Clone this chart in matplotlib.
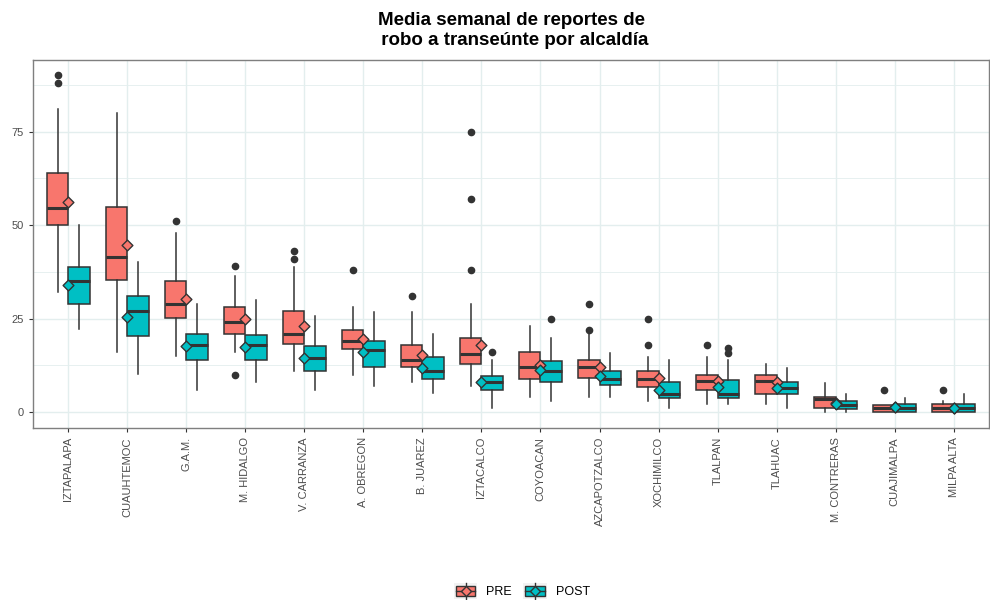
import matplotlib
matplotlib.use('Agg')
import matplotlib.pyplot as plt
from matplotlib.legend_handler import HandlerBase
from matplotlib.patches import Rectangle
from matplotlib.lines import Line2D

plt.rcParams['font.family'] = ['Liberation Sans', 'DejaVu Sans']

# Data (weekly robbery reports per alcaldía)
alcaldias = ['IZTAPALAPA', 'CUAUHTEMOC', 'G.A.M.', 'M. HIDALGO', 'V. CARRANZA',
             'A. OBREGON', 'B. JUAREZ', 'IZTACALCO', 'COYOACAN', 'AZCAPOTZALCO',
             'XOCHIMILCO', 'TLALPAN', 'TLAHUAC', 'M. CONTRERAS', 'CUAJIMALPA',
             'MILPA ALTA']

# PRE period: q1, median, q3, lower whisker, upper whisker, mean, outliers
pre_q1 = [50, 35.2, 25.2, 20.9, 18.2, 16.8, 11.9, 12.9, 8.8, 9.2, 6.8, 5.9, 4.9, 1, 0, 0]
pre_med = [54.6, 41.5, 29, 24, 20.9, 19, 14, 15.5, 12, 12, 8.9, 8.2, 8.3, 3.5, 1, 1]
pre_q3 = [64, 54.8, 35, 28, 27, 22, 17.9, 19.7, 16, 13.9, 10.9, 10, 10, 3.9, 1.8, 2]
pre_lo = [32, 16, 15, 16, 11, 10, 8, 7, 3.9, 3.9, 2.9, 2, 2, 0, 0, 0]
pre_hi = [81, 80, 47.9, 36.5, 38.9, 28, 26.8, 28.9, 22.9, 20.9, 14.8, 14.8, 12.7, 7.8, 1.8, 3]
pre_mean = [56.2, 44.6, 30.2, 25, 23, 19.4, 15.3, 17.9, 12.5, 12.1, 9.2, 8.2, 8, 2.4, 1.2, 1.1]
pre_out = [[88.1, 90.2], [], [51], [39.1, 10], [40.9, 43], [38], [31], [38, 57.1, 75],
           [], [22, 29], [17.9, 25], [18], [], [], [6], [6]]

# POST period
post_q1 = [28.9, 20.2, 13.8, 13.8, 10.9, 11.9, 8.8, 5.9, 7.9, 7.1, 3.8, 3.8, 4.9, 0.8, 0, 0]
post_med = [35, 27, 17.9, 17.9, 14.5, 16.5, 10.9, 7.9, 11, 8.9, 4.8, 4.8, 6.4, 1.8, 1, 1]
post_q3 = [38.9, 30.9, 20.9, 20.7, 17.6, 19, 14.7, 9.7, 13.6, 10.9, 8, 8.6, 8, 2.9, 2, 2]
post_lo = [22.1, 10.1, 5.9, 8, 5.9, 7, 5, 1, 2.9, 3.9, 1, 2, 1, 0, 0, 0]
post_hi = [50, 40, 28.9, 30, 25.8, 26.8, 20.9, 13.8, 19.9, 15.8, 13.8, 13.8, 11.8, 4.7, 3.8, 4.7]
post_mean = [34.1, 25.5, 17.7, 17.5, 14.3, 16.1, 11.7, 7.9, 11.2, 9.5, 5.9, 6.6, 6.4, 2, 1.2, 1.1]
post_out = [[], [], [], [], [], [], [], [16], [25], [], [], [15.9, 17.2], [], [], [], []]

pre_color = '#F8766D'
post_color = '#00BFC4'
edge = '#333333'


def make_stats(q1, med, q3, lo, hi, out):
    return [dict(q1=a, med=b, q3=c, whislo=d, whishi=e, fliers=f)
            for a, b, c, d, e, f in zip(q1, med, q3, lo, hi, out)]


fig = plt.figure(figsize=(9.9, 6), dpi=100)
ax = fig.add_axes([0.0333, 0.2867, 0.9657, 0.6133])

x = list(range(1, len(alcaldias) + 1))
width = 0.36
offset = 0.18

for stats, shift, col in [(make_stats(pre_q1, pre_med, pre_q3, pre_lo, pre_hi, pre_out), -offset, pre_color),
                          (make_stats(post_q1, post_med, post_q3, post_lo, post_hi, post_out), offset, post_color)]:
    ax.bxp(stats, positions=[p + shift for p in x], widths=width, patch_artist=True,
           showcaps=False, manage_ticks=False,
           boxprops=dict(facecolor=col, edgecolor=edge, linewidth=1.1),
           medianprops=dict(color=edge, linewidth=2.2),
           whiskerprops=dict(color=edge, linewidth=1.1),
           flierprops=dict(marker='o', markerfacecolor=edge, markeredgecolor=edge,
                           markersize=4.5, linestyle='none'))

# means at the category centre
ax.scatter(x, pre_mean, marker='D', s=30, facecolor=pre_color, edgecolor=edge,
           linewidth=1, zorder=5)
ax.scatter(x, post_mean, marker='D', s=30, facecolor=post_color, edgecolor=edge,
           linewidth=1, zorder=5)

ax.set_xlim(0.4, 16.6)
ax.set_ylim(-4.3, 94.2)
ax.set_xticks(x)
ax.set_xticklabels(alcaldias, rotation=90, fontsize=8, color='#4D4D4D')
ax.set_yticks([0, 25, 50, 75])
ax.set_yticks([12.5, 37.5, 62.5, 87.5], minor=True)
ax.tick_params(axis='y', labelsize=8, labelcolor='#4D4D4D', color='#333333', length=3)
ax.tick_params(axis='x', color='#333333', length=3)
ax.tick_params(axis='y', which='minor', length=0)
ax.grid(True, which='major', color='#E3EEEE', linewidth=1.0)
ax.grid(True, which='minor', axis='y', color='#E3EEEE', linewidth=0.6)
ax.set_axisbelow(True)
for s in ax.spines.values():
    s.set_color('#7F7F7F')
    s.set_linewidth(1.0)

fig.text(0.517, 0.98, 'Media semanal de reportes de\n robo a transeúnte por alcaldía',
         ha='center', va='top', fontsize=13.5, fontweight='bold', linespacing=1.2)


class BoxKey(HandlerBase):
    def __init__(self, color):
        super().__init__()
        self.color = color

    def create_artists(self, legend, orig_handle, xdescent, ydescent, width, height, fontsize, trans):
        x0, y0 = -xdescent, -ydescent
        bg = Rectangle((x0, y0), width, height, facecolor='#F2F2F2', edgecolor='none', transform=trans)
        cx = x0 + width / 2
        cy = y0 + height / 2
        wl = Line2D([cx, cx], [y0, y0 + height], color=edge, lw=1, transform=trans)
        bh = height * 0.7
        box = Rectangle((x0 + 1.5, cy - bh / 2), width - 3, bh,
                        facecolor=self.color, edgecolor=edge, lw=1, transform=trans)
        med = Line2D([x0 + 1.5, x0 + width - 1.5], [cy, cy], color=edge, lw=1, transform=trans)
        dm = Line2D([cx], [cy], marker='D', markersize=5.5, markerfacecolor=self.color,
                    markeredgecolor=edge, transform=trans)
        return [bg, wl, box, med, dm]


h_pre = Rectangle((0, 0), 1, 1)
h_post = Rectangle((0, 0), 1, 1)
fig.legend([h_pre, h_post], ['PRE', 'POST'], loc='center', bbox_to_anchor=(0.527, 0.015),
           ncol=2, frameon=False, fontsize=9, handlelength=1.9, handleheight=1.55,
           columnspacing=0.9, handletextpad=0.7,
           handler_map={h_pre: BoxKey(pre_color), h_post: BoxKey(post_color)})

fig.savefig('out.png', dpi=100)
